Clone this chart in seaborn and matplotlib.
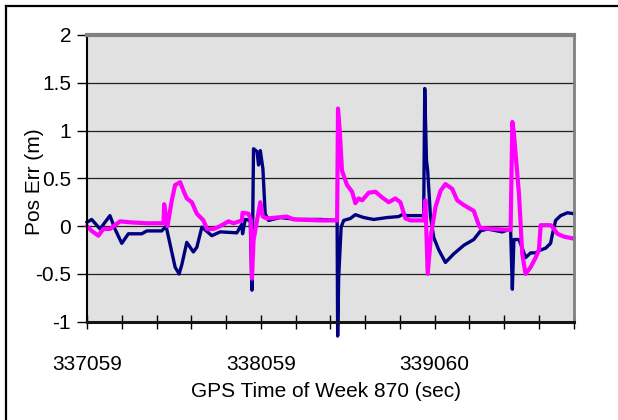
import matplotlib
matplotlib.use("Agg")
import matplotlib.pyplot as plt
import seaborn as sns
import pandas as pd
from matplotlib.lines import Line2D

# ---- data ----
t0 = 337059
navy_offsets = [0, 27, 75, 132, 161, 200, 238, 315, 344, 430, 455, 507, 530, 546, 574,
                612, 632, 661, 718, 766, 862, 891, 895, 910, 939, 949, 958, 978, 987, 997,
                1012, 1025, 1044, 1112, 1208, 1342, 1439, 1442, 1448, 1462, 1477, 1515, 1544,
                1592, 1649, 1727, 1793, 1813, 1842, 1937, 1943, 1953, 1960, 1976, 1995, 2024,
                2062, 2110, 2168, 2225, 2264, 2303, 2389, 2437, 2447, 2456, 2485, 2504, 2523,
                2552, 2581, 2610, 2639, 2667, 2677, 2696, 2725, 2764, 2800]
navy_values = [0.04, 0.07, -0.03, 0.11, -0.03, -0.18, -0.08, -0.08, -0.05, -0.05, 0.0, -0.43,
               -0.5, -0.4, -0.17, -0.27, -0.22, -0.01, -0.1, -0.06, -0.07, 0.02, -0.08, 0.07,
               0.06, -0.67, 0.81, 0.78, 0.64, 0.79, 0.6, 0.13, 0.06, 0.09, 0.07, 0.07, 0.06,
               -1.15, -0.53, -0.01, 0.06, 0.08, 0.12, 0.09, 0.07, 0.09, 0.1, 0.12, 0.11, 0.11,
               1.44, 0.69, 0.58, 0.1, -0.12, -0.25, -0.38, -0.29, -0.2, -0.14, -0.05, -0.03,
               -0.06, -0.03, -0.66, -0.14, -0.14, -0.23, -0.33, -0.28, -0.28, -0.25, -0.23,
               -0.18, -0.09, 0.06, 0.11, 0.14, 0.13]

magenta_offsets = [0, 27, 65, 94, 132, 190, 248, 344, 440, 444, 463, 488, 507, 536, 555, 574,
                   603, 632, 670, 690, 728, 766, 814, 843, 891, 895, 929, 943, 949, 958, 978,
                   997, 1012, 1035, 1150, 1189, 1342, 1439, 1444, 1454, 1467, 1496, 1525, 1544,
                   1563, 1583, 1621, 1659, 1698, 1736, 1774, 1803, 1832, 1861, 1937, 1947, 1960,
                   1980, 2005, 2034, 2062, 2101, 2130, 2168, 2225, 2254, 2264, 2341, 2437, 2447,
                   2456, 2485, 2504, 2523, 2552, 2581, 2600, 2610, 2667, 2683, 2706, 2744, 2800]
magenta_values = [0.0, -0.05, -0.1, -0.03, -0.03, 0.05, 0.04, 0.03, 0.03, 0.23, 0.0, 0.27,
                  0.43, 0.46, 0.37, 0.29, 0.25, 0.13, 0.06, -0.03, -0.03, 0.0, 0.05, 0.03, 0.06,
                  0.14, 0.13, 0.06, -0.55, -0.15, 0.06, 0.25, 0.1, 0.08, 0.1, 0.07,
                  0.06, 0.06, 1.23, 1.0, 0.58, 0.43, 0.36, 0.24, 0.29, 0.27, 0.35, 0.36, 0.3,
                  0.25, 0.29, 0.25, 0.08, 0.06, 0.06, 0.27, -0.5, -0.08, 0.2, 0.37, 0.44, 0.39,
                  0.27, 0.22, 0.16, 0.01, -0.02, -0.03, -0.04, 1.09, 0.97, 0.34, -0.29, -0.5,
                  -0.43, -0.33, -0.25, 0.01, 0.01, -0.02, -0.08, -0.11, -0.13]

series_names = ["navy", "magenta"]
series_colors = ["#000080", "#ff00ff"]
x_tick_labels = ["337059", "338059", "339060"]
y_ticks = [-1, -0.5, 0, 0.5, 1, 1.5, 2]
y_tick_labels = ["-1", "-0.5", "0", "0.5", "1", "1.5", "2"]

df = pd.concat([
    pd.DataFrame({"t": [t0 + o for o in navy_offsets], "err": navy_values, "s": "navy"}),
    pd.DataFrame({"t": [t0 + o for o in magenta_offsets], "err": magenta_values, "s": "magenta"}),
], ignore_index=True)

plt.rcParams["font.family"] = ["Liberation Sans", "DejaVu Sans"]

W, H = 618, 420
fig = plt.figure(figsize=(W / 100, H / 100), dpi=100)
L, R, T, B = 87, 573.7, 35, 321.7
ax = fig.add_axes([L / W, 1 - B / H, (R - L) / W, (B - T) / H])
ax.set_facecolor("#e1e1e1")

sns.lineplot(data=df, x="t", y="err", hue="s", hue_order=series_names,
             palette=dict(zip(series_names, series_colors)), sort=False,
             estimator=None, legend=False, ax=ax)
lws = [2.4, 3.0]
for line, lw in zip(ax.lines, lws):
    line.set_linewidth(lw)
    line.set_clip_on(False)
    line.set_solid_joinstyle("round")

ax.set_xlim(t0, t0 + 2800)
ax.set_ylim(-1, 2)

xt = list(range(t0, t0 + 2801, 200))
ax.set_xticks(xt)
lbls = [""] * len(xt)
lbls[0], lbls[5], lbls[10] = x_tick_labels
ax.set_xticklabels(lbls)
ax.set_yticks(y_ticks)
ax.set_yticklabels(y_tick_labels)

ax.tick_params(axis="x", direction="inout", length=9.5, width=1.0, color="black",
               labelsize=15, pad=19)
ax.tick_params(axis="y", direction="out", length=7, width=1.0, color="black",
               labelsize=15, pad=4.5)

ax.grid(False)
for yv in [-0.5, 0, 0.5, 1, 1.5]:
    ax.axhline(yv, color="#202020", lw=0.9, zorder=0.5)

ax.spines["top"].set_color("#808080")
ax.spines["top"].set_linewidth(3.0)
ax.spines["right"].set_color("#808080")
ax.spines["right"].set_linewidth(2.0)
ax.spines["left"].set_color("black")
ax.spines["left"].set_linewidth(1.5)
ax.spines["bottom"].set_color("#151515")
ax.spines["bottom"].set_linewidth(2.2)
ax.set_xlabel("")
ax.set_ylabel("")

fig.text(35 / W, 1 - 182 / H, "Pos Err (m)", rotation=90, ha="center", va="center",
         fontsize=15, color="black")
fig.text(326 / W, 1 - 397 / H, "GPS Time of Week 870 (sec)", ha="center", va="baseline",
         fontsize=15, color="black")

# outer frame (top and left edges visible)
fig.add_artist(Line2D([6 / W, 1], [1 - 5.7 / H, 1 - 5.7 / H], color="black", lw=1.6,
                      transform=fig.transFigure))
fig.add_artist(Line2D([6 / W, 6 / W], [0, 1 - 5.7 / H], color="black", lw=1.6,
                      transform=fig.transFigure))

fig.savefig("out.png", dpi=100)
